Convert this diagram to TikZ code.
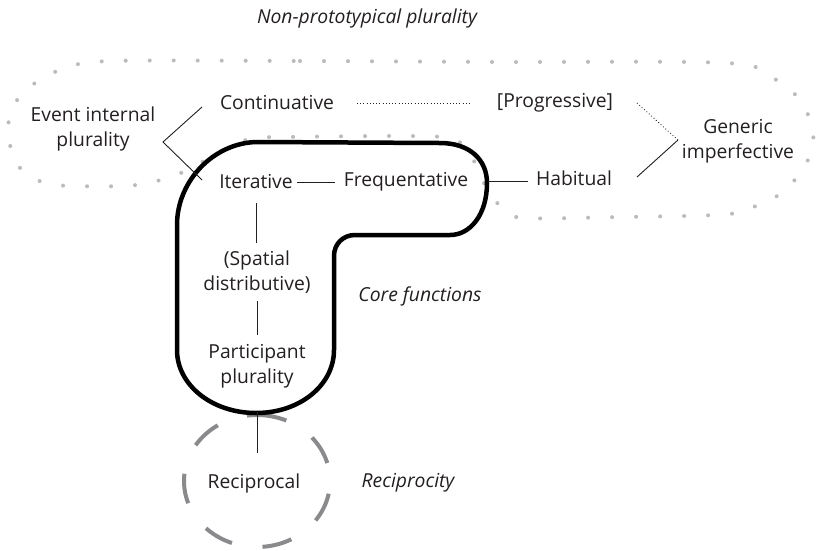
\documentclass[tikz,border=0pt]{standalone}
\usepackage{fontspec}
\setmainfont{Open Sans}
\usetikzlibrary{calc}
\definecolor{txt}{HTML}{231F20}
\definecolor{dotc}{HTML}{BBBBBD}
\definecolor{dashc}{HTML}{8A8A8C}
\begin{document}
\begin{tikzpicture}[x=1pt,y=-1pt,
  lbl/.style={font=\fontsize{19.3}{25.5}\selectfont, text=txt, align=center, inner sep=0pt},
  ital/.style={font=\fontsize{19.3}{25.5}\selectfont\itshape, text=txt, align=center, inner sep=0pt},
  thin/.style={draw=txt, line width=0.9pt},
  dotline/.style={draw=txt, line width=0.9pt, dash pattern=on 0.8pt off 2.4pt},
  coreline/.style={draw=black, line width=4.5pt, line join=round},
  outer/.style={draw=dotc, line width=4pt, line cap=round, dash pattern=on 0pt off 24pt},
  recipc/.style={draw=dashc, line width=4pt, dash pattern=on 30pt off 31pt}]
\useasboundingbox (0,0) rectangle (817,550);

% outer dotted region
\draw[outer] plot[smooth cycle, tension=0.55] coordinates {
 (112,61) (300,61) (500,62) (726,63) (771,77) (800,100) (813,132) (808,160)
 (783,192) (745,210) (716,215) (620,217) (525,218) (503,209) (485,185)
 (468,150) (448,138) (400,136) (281,137) (257,138) (235,144) (193,167)
 (171,177) (147,183) (124,186) (75,186) (45,183) (20,168) (8,135) (14,105)
 (35,83) (66,68)};

% reciprocity circle
\draw[recipc] (257,415) arc[start angle=90, end angle=-270, x radius=73pt, y radius=66pt];

% core functions shape
\draw[coreline] (258,142) -- (440,143) .. controls (470,143) and (487,160) .. (487,183)
  .. controls (487,215) and (470,235) .. (450,235) -- (355,235)
  .. controls (343,235) and (334,244) .. (334,256) -- (334,350)
  .. controls (334,385) and (300,413) .. (256,413)
  .. controls (212,413) and (177,385) .. (177,350) -- (177,225)
  .. controls (177,180) and (215,142) .. (258,142) -- cycle;

% texts
\node[ital] (title) at (367,18) {Non-prototypical plurality};
\node[lbl] (evt) at (93,129) {Event internal\\plurality};
\node[lbl] (cont) at (277,103) {Continuative};
\node[lbl] (prog) at (555,103) {[Progressive]};
\node[lbl] (gen) at (738,141) {Generic\\imperfective};
\node[lbl] (iter) at (256,182) {Iterative};
\node[lbl] (freq) at (406,182) {Frequentative};
\node[lbl] (hab) at (574,178) {Habitual};
\node[lbl] (spat) at (257,272) {(Spatial\\distributive)};
\node[lbl] (part) at (257,366) {Participant\\plurality};
\node[ital] (core) at (420,296) {Core functions};
\node[lbl] (recip) at (254,483) {Reciprocal};
\node[ital] (recity) at (408,483) {Reciprocity};

% connector end points
\coordinate (vE) at (163,142);
\coordinate (cW) at (202,107);
\coordinate (iW) at (202,180);
\coordinate (cE) at (357,103);
\coordinate (pW) at (470,103);
\coordinate (pE) at (637,103);
\coordinate (vG) at (678,140);
\coordinate (hE) at (637,177);
\coordinate (iE) at (297,182);
\coordinate (fW) at (335,182);
\coordinate (fE) at (488,181);
\coordinate (hW) at (528,181);
\coordinate (iS) at (256,203);
\coordinate (sN) at (256,243);
\coordinate (sS) at (257,301);
\coordinate (pN) at (257,335);
\coordinate (pS) at (257,412);
\coordinate (rN) at (257,453);

\draw[thin] (cW) -- (vE) -- (iW);
\draw[dotline] (cE) -- (pW);
\draw[dotline] (pE) -- (vG);
\draw[thin] (hE) -- (vG);
\draw[thin] (iE) -- (fW);
\draw[thin] (fE) -- (hW);
\draw[thin] (iS) -- (sN);
\draw[thin] (sS) -- (pN);
\draw[thin] (pS) -- (rN);
\end{tikzpicture}
\end{document}
